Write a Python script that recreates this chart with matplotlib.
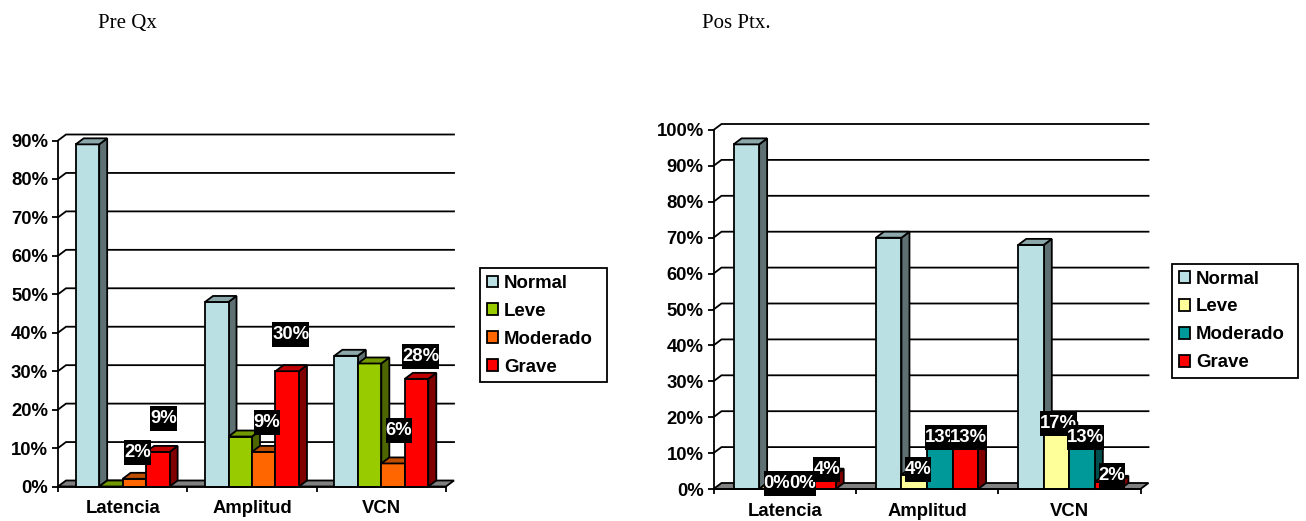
import matplotlib
matplotlib.use("Agg")
import matplotlib.pyplot as plt
from matplotlib.patches import Patch
from matplotlib.path import Path

plt.rcParams["font.family"] = ["Liberation Sans", "DejaVu Sans"]
plt.rcParams["font.weight"] = "bold"

W, H = 1306, 521
DPI = 100

categories = ["Latencia", "Amplitud", "VCN"]
series_names = ["Normal", "Leve", "Moderado", "Grave"]

# percentages per series, one value per category
pre_normal = [89, 48, 34]
pre_leve = [0, 13, 32]
pre_moderado = [2, 9, 6]
pre_grave = [9, 30, 28]

pos_normal = [96, 70, 68]
pos_leve = [0, 4, 17]
pos_moderado = [0, 13, 13]
pos_grave = [4, 13, 2]

# (front, side, top) shades of each series
NORMAL = ("#BBE0E3", "#5E7072", "#8CA8AA")
LEVE_PRE = ("#99CC00", "#4D6600", "#739900")
LEVE_POS = ("#FFFF99", "#80804D", "#BFBF73")
MOD_PRE = ("#FF6600", "#803300", "#BF4D00")
MOD_POS = ("#009999", "#004D4D", "#007373")
GRAVE = ("#FF0000", "#800000", "#BF0000")

# which bars carry a value label, with the label's shift from the bar top in pixels:
# (category, series): (dx, dy)
pre_labels = {
    (0, 2): (3.1, 26.3), (0, 3): (5.4, 33.4),
    (1, 2): (3.3, 29.4), (1, 3): (3.5, 36.7),
    (2, 2): (6.0, 32.9), (2, 3): (4.0, 22.4),
}
pos_labels = {
    (0, 1): (5.0, 5.5), (0, 2): (5.4, 5.5), (0, 3): (3.8, 5.1),
    (1, 1): (3.8, 5.1), (1, 2): (3.7, 4.8), (1, 3): (3.1, 4.8),
    (2, 1): (2.1, 4.5), (2, 2): (3.0, 4.8), (2, 3): (4.4, 6.3),
}

LW = 1.3
FS = 13.3
LABEL_BOX_HEIGHT = 25  # pixels


def label_box(x0, y0, width, height, mutation_size):
    """Black plate as wide as the text, with a fixed height."""
    mid = y0 + height / 2
    lo, hi = mid - LABEL_BOX_HEIGHT / 2, mid + LABEL_BOX_HEIGHT / 2
    return Path([(x0, lo), (x0 + width, lo), (x0 + width, hi), (x0, hi), (x0, lo)], closed=True)


fig = plt.figure(figsize=(W / DPI, H / DPI), dpi=DPI, facecolor="white")


def chart(left, right, floor, top, ymax, depth_px, group_margin_px, series, colors, labels):
    ax = fig.add_axes([left / W, 1 - floor / H, (right - left) / W, (floor - top) / H])
    ax.set_xlim(0, len(categories))
    ax.set_ylim(0, ymax)
    ax.patch.set_visible(False)

    px_x = (right - left) / len(categories)
    px_y = (floor - top) / ymax
    dx = depth_px[0] / px_x
    dy = depth_px[1] / px_y

    # floor of the box
    ax.fill([0, dx, len(categories) + dx, len(categories)], [0, dy, dy, 0],
            facecolor="#808080", edgecolor="black", lw=LW, clip_on=False, zorder=1)

    # back wall rules with their short diagonals to the axis
    ticks = list(range(10, ymax + 1, 10))
    for t in ticks:
        ax.plot([0, dx, len(categories) + dx], [t, t + dy, t + dy],
                color="black", lw=LW, clip_on=False, zorder=2, solid_joinstyle="miter")

    margin = group_margin_px / px_x
    bw = (1 - 2 * margin) / len(series)
    for c in range(len(categories)):
        for s, values in enumerate(series):
            v = values[c]
            x0 = c + margin + s * bw
            x1 = x0 + bw
            front, side, roof = colors[s]
            ax.fill([x1, x1 + dx, x1 + dx, x1], [0, dy, v + dy, v],
                    facecolor=side, edgecolor="black", lw=LW, clip_on=False, zorder=3)
            ax.bar(x0, v, width=bw, align="edge", facecolor=front, edgecolor="black",
                   lw=LW, clip_on=False, zorder=3)
            ax.fill([x0, x0 + dx, x1 + dx, x1], [v, v + dy, v + dy, v],
                    facecolor=roof, edgecolor="black", lw=LW, clip_on=False, zorder=3)

    for (c, s), (ox, oy) in labels.items():
        v = series[s][c]
        ax.annotate(f"{v}%", xy=(c + margin + (s + 0.5) * bw, v), xytext=(ox, oy),
                    textcoords="offset pixels", ha="center", va="center",
                    color="white", fontsize=FS, fontweight="bold", zorder=10,
                    annotation_clip=False,
                    bbox=dict(boxstyle=label_box, fc="black", ec="none"))

    for side_name in ("top", "right"):
        ax.spines[side_name].set_visible(False)
    for side_name in ("left", "bottom"):
        ax.spines[side_name].set_linewidth(LW)
        ax.spines[side_name].set_zorder(6)

    ax.set_yticks([0] + ticks)
    ax.set_yticklabels([f"{t}%" for t in [0] + ticks], fontsize=FS, fontweight="bold")
    ax.tick_params(axis="y", length=4.6, width=LW, pad=2.5)
    ax.set_xticks([i for i in range(len(categories) + 1)])
    ax.set_xticklabels([""] * (len(categories) + 1))
    ax.tick_params(axis="x", length=3.8, width=LW)
    ax.set_xticks([i + 0.5 for i in range(len(categories))], minor=True)
    ax.set_xticklabels(categories, minor=True, fontsize=FS, fontweight="bold")
    ax.tick_params(axis="x", which="minor", length=0, pad=10)

    return [Patch(facecolor=col[0], edgecolor="black", lw=LW) for col in colors]


def legend(handles, x, y, w, h):
    leg = fig.legend(handles, series_names, loc="upper left", mode="expand",
                     bbox_to_anchor=(x / W, 1 - (y + h) / H, w / W, h / H),
                     bbox_transform=fig.transFigure,
                     borderaxespad=0, fancybox=False, framealpha=1, edgecolor="black",
                     fontsize=FS + 0.1, handlelength=0.62, handleheight=0.57,
                     handletextpad=0.31, labelspacing=0.59, borderpad=0.35)
    leg.get_frame().set_linewidth(LW)


h1 = chart(58, 446, 486.5, 140.5, 90, (8, 6), 17.7,
           [pre_normal, pre_leve, pre_moderado, pre_grave],
           [NORMAL, LEVE_PRE, MOD_PRE, GRAVE], pre_labels)
h2 = chart(713.5, 1140.5, 489, 130, 100, (8, 6), 20.1,
           [pos_normal, pos_leve, pos_moderado, pos_grave],
           [NORMAL, LEVE_POS, MOD_POS, GRAVE], pos_labels)

legend(h1, 480, 268.3, 126.7, 112.7)
legend(h2, 1172.3, 264, 125.7, 112.7)

title_font = dict(family="Liberation Serif", fontweight="normal", fontsize=15, va="center", ha="left")
fig.text(98 / W, 1 - 23.5 / H, "Pre Qx", **title_font)
fig.text(702 / W, 1 - 23.5 / H, "Pos Ptx.", **title_font)

fig.savefig("out.png", dpi=DPI, facecolor="white")
